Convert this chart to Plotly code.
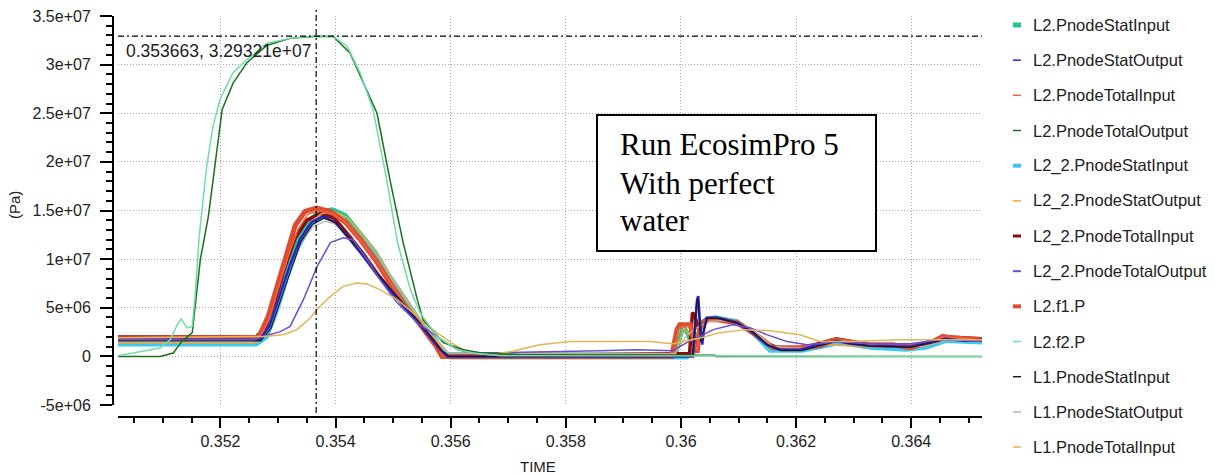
import plotly.graph_objects as go

SCALE = 1e6  # values below are written in units of 1e6 Pa

# ---------------- data (time [s], pressure [1e6 Pa]) ----------------
t_l2_stat_in = [0.35022, 0.35260, 0.35278, 0.35295, 0.35312, 0.35333, 0.35356, 0.35373, 0.35394, 0.35417,
                0.35443, 0.35469, 0.35495, 0.35521, 0.35547, 0.35573, 0.35590, 0.35990, 0.36004, 0.36011,
                0.36019, 0.36028, 0.36038, 0.36059, 0.36097, 0.36129, 0.36155, 0.36207, 0.36245, 0.36276,
                0.36328, 0.36389, 0.36424, 0.36459, 0.36523]
p_l2_stat_in = [1.3, 1.3, 2.23, 5.3, 8.7, 12.0, 14.1, 14.9, 15.1, 14.5,
                12.6, 10.7, 8.1, 5.8, 3.57, 1.71, 0.2, 0.17, 3.08, 2.44,
                1.2, 1.92, 3.57, 3.98, 3.57, 2.23, 0.79, 0.69, 1.1, 1.5,
                1.0, 0.79, 1.0, 1.71, 1.5]

t_l2_stat_out = [0.35022, 0.35268, 0.35285, 0.35302, 0.35320, 0.35338, 0.35358, 0.35378, 0.35399, 0.35425,
                 0.35448, 0.35472, 0.35495, 0.35519, 0.35542, 0.35564, 0.35582, 0.35594, 0.36021, 0.36028,
                 0.36030, 0.36033, 0.36037, 0.36040, 0.36045, 0.36063, 0.36097, 0.36125, 0.36149, 0.36172,
                 0.36207, 0.36233, 0.36271, 0.36294, 0.36328, 0.36398, 0.36433, 0.36459, 0.36493, 0.36523]
p_l2_stat_out = [1.7, 1.7, 3.1, 6.2, 9.25, 12.0, 13.8, 14.4, 13.8, 12.0,
                 10.3, 8.4, 6.75, 5.1, 3.6, 2.0, 0.7, 0.0, 0.0, 5.83,
                 6.2, 3.46, 1.2, 2.75, 3.98, 3.98, 3.46, 2.44, 1.2, 0.69,
                 0.69, 1.1, 1.61, 1.3, 1.1, 1.0, 1.41, 1.82, 1.61, 1.71]

t_l2_tot_in = [0.35022, 0.35250, 0.35268, 0.35285, 0.35302, 0.35320, 0.35335, 0.35352, 0.35372, 0.35395,
               0.35420, 0.35445, 0.35471, 0.35497, 0.35523, 0.35549, 0.35575, 0.35588, 0.35986, 0.35995,
               0.36000, 0.36015, 0.36020, 0.36028, 0.36035, 0.36050, 0.36065, 0.36100, 0.36127, 0.36160,
               0.36210, 0.36270, 0.36330, 0.36400, 0.36455, 0.36523]
p_l2_tot_in = [1.75, 1.75, 1.9, 3.9, 7.3, 10.7, 13.1, 14.6, 15.0, 14.7,
               13.6, 11.8, 9.8, 7.4, 5.1, 3.2, 1.2, 0.0, 0.0, 2.6,
               3.1, 3.1, 2.3, 0.6, 3.0, 3.7, 3.7, 3.4, 2.4, 0.9,
               0.9, 1.65, 1.15, 0.9, 2.0, 1.7]

t_l2_tot_out = [0.35022, 0.35095, 0.35118, 0.35133, 0.35151, 0.35165, 0.35179, 0.35194, 0.35203, 0.35222,
                0.35246, 0.35281, 0.35321, 0.35368, 0.35396, 0.35425, 0.35450, 0.35472, 0.35495, 0.35517,
                0.35542, 0.35552, 0.35587, 0.35622, 0.35651, 0.35720, 0.36059, 0.36060, 0.36523]
p_l2_tot_out = [0.0, 0.0, 0.35, 1.54, 2.44, 9.94, 14.4, 21.6, 25.4, 28.1,
                30.2, 32.0, 32.7, 32.93, 32.9, 31.2, 28.0, 25.0, 18.0, 11.8,
                5.83, 3.77, 1.41, 0.69, 0.38, 0.17, 0.12, 0.0, 0.0]

t_l22_stat_in = [0.35022, 0.35262, 0.35280, 0.35297, 0.35315, 0.35335, 0.35358, 0.35385, 0.35410, 0.35440,
                 0.35470, 0.35500, 0.35525, 0.35550, 0.35575, 0.35592, 0.35600, 0.35990, 0.36010, 0.36025,
                 0.36035, 0.36045, 0.36060, 0.36097, 0.36127, 0.36155, 0.36210, 0.36245, 0.36275, 0.36330,
                 0.36390, 0.36425, 0.36460, 0.36523]
p_l22_stat_in = [1.25, 1.25, 2.0, 4.6, 8.0, 11.3, 13.6, 14.6, 14.2, 12.4,
                 10.3, 7.6, 5.5, 3.3, 1.4, 0.2, -0.1, -0.1, -0.1, 0.8,
                 3.2, 3.8, 3.9, 3.6, 2.3, 0.6, 0.6, 1.0, 1.4, 0.9,
                 0.7, 0.9, 1.6, 1.45]

t_l22_stat_out = [0.35022, 0.35262, 0.35280, 0.35298, 0.35315, 0.35336, 0.35358, 0.35376, 0.35396, 0.35420,
                  0.35446, 0.35472, 0.35498, 0.35524, 0.35550, 0.35576, 0.35592, 0.35990, 0.36005, 0.36015,
                  0.36025, 0.36040, 0.36060, 0.36100, 0.36130, 0.36158, 0.36210, 0.36250, 0.36330, 0.36420,
                  0.36460, 0.36523]
p_l22_stat_out = [1.4, 1.4, 2.3, 5.2, 8.5, 11.8, 13.9, 14.7, 14.9, 14.3,
                  12.5, 10.6, 8.0, 5.7, 3.5, 1.6, 0.2, 0.2, 2.9, 2.3,
                  1.6, 3.5, 3.9, 3.5, 2.2, 0.8, 0.7, 1.2, 1.0, 1.0,
                  1.7, 1.55]

t_l22_tot_in = [0.35022, 0.35262, 0.35278, 0.35295, 0.35312, 0.35330, 0.35350, 0.35375, 0.35398, 0.35425,
                0.35450, 0.35475, 0.35500, 0.35525, 0.35548, 0.35570, 0.35586, 0.35596, 0.35995, 0.36015,
                0.36020, 0.36024, 0.36030, 0.36045, 0.36065, 0.36100, 0.36128, 0.36150, 0.36172, 0.36207,
                0.36245, 0.36270, 0.36330, 0.36400, 0.36440, 0.36465, 0.36523]
p_l22_tot_in = [2.0, 2.0, 3.0, 5.8, 9.2, 12.2, 14.0, 14.7, 14.2, 12.3,
                10.4, 8.3, 6.5, 4.8, 3.2, 1.6, 0.4, 0.0, 0.3, 0.3,
                4.5, 4.2, 3.0, 3.9, 3.9, 3.4, 2.3, 1.3, 0.8, 0.8,
                1.4, 1.8, 1.15, 1.05, 1.6, 2.0, 1.8]

t_l22_tot_out = [0.35022, 0.35260, 0.35274, 0.35304, 0.35321, 0.35344, 0.35368, 0.35391, 0.35413, 0.35430,
                 0.35455, 0.35477, 0.35507, 0.35542, 0.35576, 0.35611, 0.35634, 0.35686, 0.35859, 0.35924,
                 0.35986, 0.36010, 0.36033, 0.36056, 0.36090, 0.36120, 0.36149, 0.36184, 0.36219, 0.36276,
                 0.36328, 0.36398, 0.36450, 0.36523]
p_l22_tot_out = [1.71, 1.71, 2.05, 2.54, 3.08, 5.83, 9.25, 11.7, 12.2, 12.0,
                 9.94, 7.9, 5.52, 3.46, 2.03, 0.69, 0.38, 0.38, 0.59, 0.69,
                 0.59, 1.41, 2.06, 2.75, 3.26, 2.95, 2.24, 1.54, 1.2, 1.5,
                 1.3, 1.3, 1.71, 1.61]

t_l2_f1 = [0.35022, 0.35245, 0.35266, 0.35283, 0.35300, 0.35318, 0.35330, 0.35347, 0.35367, 0.35391,
           0.35417, 0.35443, 0.35469, 0.35495, 0.35521, 0.35547, 0.35573, 0.35585, 0.35984, 0.35993,
           0.35998, 0.36016, 0.36019, 0.36028, 0.36033, 0.36045, 0.36063, 0.36097, 0.36125, 0.36143,
           0.36160, 0.36207, 0.36242, 0.36268, 0.36288, 0.36328, 0.36368, 0.36398, 0.36438, 0.36455,
           0.36467, 0.36523]
p_l2_f1 = [1.8, 1.8, 1.92, 4.11, 7.58, 11.0, 13.5, 14.9, 15.26, 14.9,
           13.8, 12.0, 9.94, 7.5, 5.2, 3.26, 1.2, 0.0, 0.0, 2.75,
           3.26, 3.26, 2.44, 0.38, 3.05, 3.77, 3.77, 3.46, 2.44, 1.71,
           0.89, 0.89, 1.1, 1.71, 1.54, 1.2, 1.2, 0.89, 1.54, 2.05,
           1.92, 1.71]

t_l2_f2 = [0.35022, 0.35061, 0.35095, 0.35113, 0.35125, 0.35132, 0.35142, 0.35151, 0.35156, 0.35163,
           0.35176, 0.35187, 0.35199, 0.35222, 0.35246, 0.35281, 0.35321, 0.35367, 0.35396, 0.35420,
           0.35443, 0.35465, 0.35488, 0.35508, 0.35530, 0.35547, 0.35576, 0.35611, 0.35639, 0.35686,
           0.36523]
p_l2_f2 = [0.07, 0.51, 0.86, 1.72, 3.26, 3.85, 2.92, 3.08, 6.17, 12.3,
           19.5, 23.6, 26.4, 29.2, 30.5, 32.2, 32.7, 32.97, 32.9, 31.9,
           29.1, 25.4, 18.4, 11.6, 6.86, 4.46, 2.06, 0.69, 0.35, 0.07,
           0.0]

t_l1_stat_in = [0.35022, 0.35270, 0.35288, 0.35305, 0.35323, 0.35340, 0.35360, 0.35380, 0.35402, 0.35428,
                0.35452, 0.35476, 0.35500, 0.35524, 0.35546, 0.35568, 0.35585, 0.35597, 0.36020, 0.36027,
                0.36030, 0.36034, 0.36046, 0.36065, 0.36100, 0.36128, 0.36152, 0.36175, 0.36210, 0.36270,
                0.36330, 0.36400, 0.36460, 0.36523]
p_l1_stat_in = [1.6, 1.6, 2.9, 5.9, 9.0, 11.8, 13.6, 14.2, 13.7, 11.9,
                10.2, 8.3, 6.6, 5.0, 3.5, 1.9, 0.6, 0.0, 0.0, 5.5,
                5.9, 1.5, 3.9, 3.9, 3.4, 2.4, 1.1, 0.6, 0.6, 1.55,
                1.05, 0.95, 1.75, 1.65]

t_l1_stat_out = [0.35022, 0.35265, 0.35282, 0.35300, 0.35318, 0.35338, 0.35360, 0.35382, 0.35405, 0.35430,
                 0.35455, 0.35480, 0.35505, 0.35530, 0.35555, 0.35578, 0.35598, 0.35990, 0.36010, 0.36030,
                 0.36050, 0.36080, 0.36120, 0.36160, 0.36220, 0.36280, 0.36340, 0.36420, 0.36470, 0.36523]
p_l1_stat_out = [1.65, 1.65, 2.6, 5.5, 8.8, 11.6, 13.3, 13.9, 13.5, 11.8,
                 10.0, 8.0, 6.2, 4.6, 3.0, 1.5, 0.3, 0.3, 2.2, 3.0,
                 3.6, 3.7, 2.9, 1.0, 0.8, 1.6, 1.1, 1.0, 1.8, 1.7]

t_l1_tot_in = [0.35022, 0.35274, 0.35309, 0.35333, 0.35356, 0.35370, 0.35391, 0.35413, 0.35437, 0.35455,
               0.35477, 0.35507, 0.35542, 0.35576, 0.35611, 0.35634, 0.35668, 0.35703, 0.35755, 0.35807,
               0.35946, 0.35986, 0.36033, 0.36068, 0.36111, 0.36155, 0.36207, 0.36242, 0.36294, 0.36380,
               0.36523]
p_l1_tot_in = [1.92, 2.05, 2.23, 2.75, 3.95, 4.98, 6.17, 7.2, 7.55, 7.44,
               6.86, 5.83, 4.11, 2.41, 1.03, 0.35, 0.17, 0.48, 1.2, 1.54,
               1.54, 1.31, 1.89, 2.44, 2.75, 2.64, 2.23, 1.54, 1.54, 1.72,
               1.72]

SERIES = [
    # name, t, p, colour, line width, legend swatch width
    ("L2.PnodeStatInput", t_l2_stat_in, p_l2_stat_in, "#1cc59a", 4.5, 5),
    ("L2.PnodeStatOutput", t_l2_stat_out, p_l2_stat_out, "#2424c8", 2.5, 1.5),
    ("L2.PnodeTotalInput", t_l2_tot_in, p_l2_tot_in, "#f2603d", 1.5, 1.5),
    ("L2.PnodeTotalOutput", t_l2_tot_out, p_l2_tot_out, "#1a6f1f", 1.5, 1.5),
    ("L2_2.PnodeStatInput", t_l22_stat_in, p_l22_stat_in, "#3ac9f5", 4.5, 4),
    ("L2_2.PnodeStatOutput", t_l22_stat_out, p_l22_stat_out, "#ffa82e", 1.5, 1.5),
    ("L2_2.PnodeTotalInput", t_l22_tot_in, p_l22_tot_in, "#8e0b0b", 3.5, 3),
    ("L2_2.PnodeTotalOutput", t_l22_tot_out, p_l22_tot_out, "#6a4fd0", 1.5, 2),
    ("L2.f1.P", t_l2_f1, p_l2_f1, "#e04b2e", 5, 4),
    ("L2.f2.P", t_l2_f2, p_l2_f2, "#72dba6", 1.5, 1.5),
    ("L1.PnodeStatInput", t_l1_stat_in, p_l1_stat_in, "#261818", 1.2, 1.5),
    ("L1.PnodeStatOutput", t_l1_stat_out, p_l1_stat_out, "#c2ae9c", 1.2, 1.5),
    ("L1.PnodeTotalInput", t_l1_tot_in, p_l1_tot_in, "#e2b558", 1.5, 1.5),
]

DRAW_ORDER = ["L2.PnodeStatInput", "L2_2.PnodeStatInput", "L2_2.PnodeTotalInput", "L2_2.PnodeStatOutput",
              "L2.f1.P", "L2.PnodeTotalInput", "L1.PnodeStatOutput", "L2.PnodeStatOutput",
              "L1.PnodeStatInput", "L2_2.PnodeTotalOutput", "L1.PnodeTotalInput",
              "L2.PnodeTotalOutput", "L2.f2.P"]

Y_TICKS = [-5e6, 0, 5e6, 1e7, 1.5e7, 2e7, 2.5e7, 3e7, 3.5e7]
Y_TICKTEXT = ["-5e+06", "0", "5e+06", "1e+07", "1.5e+07", "2e+07", "2.5e+07", "3e+07", "3.5e+07"]
X_TICKS = [0.352, 0.354, 0.356, 0.358, 0.360, 0.362, 0.364]
X_TICKTEXT = ["0.352", "0.354", "0.356", "0.358", "0.36", "0.362", "0.364"]

CURSOR_T = 0.353663
CURSOR_P = 3.29321e7
X_RANGE = [0.35022, 0.36523]
Y_RANGE = [-5e6, 3.5e7]

# ---------------- geometry helpers (pixels -> paper) ----------------
W, H = 1215, 475
ML, MR, MT, MB = 113, 233, 16, 58
PW, PH = W - ML - MR, H - MT - MB


def px(x):
    return (x - ML) / PW


def py(y):
    return (H - MB - y) / PH


FONT = "Liberation Sans, Arial, sans-serif"

fig = go.Figure()
lookup = {s[0]: s for s in SERIES}
for name in DRAW_ORDER:
    _, t, p, col, lw, _sw = lookup[name]
    fig.add_trace(go.Scatter(x=t, y=[v * SCALE for v in p], mode="lines", name=name,
                             line=dict(color=col, width=lw), showlegend=False, hoverinfo="skip"))

# legend drawn as short swatches + labels, like the original tool
LEG_Y0, LEG_DY = 25, 35.17
for i, (name, _t, _p, col, _lw, sw) in enumerate(SERIES):
    yc = LEG_Y0 + i * LEG_DY
    fig.add_shape(type="line", xref="paper", yref="paper", x0=px(1013), x1=px(1021), y0=py(yc), y1=py(yc),
                  line=dict(color=col, width=sw))
    fig.add_annotation(xref="paper", yref="paper", x=px(1031), y=py(yc), xanchor="left", yanchor="middle",
                       text=name, showarrow=False, font=dict(family=FONT, size=16.5, color="#222"))

dashdot = "6px,3px,2px,3px"
fig.add_shape(type="line", xref="x", yref="paper", x0=CURSOR_T, x1=CURSOR_T, y0=py(413), y1=py(7),
              line=dict(color="black", width=1.2, dash=dashdot))
fig.add_shape(type="line", xref="x", yref="y", x0=X_RANGE[0], x1=X_RANGE[1], y0=CURSOR_P, y1=CURSOR_P,
              line=dict(color="black", width=1.2, dash=dashdot))
fig.add_annotation(xref="paper", yref="paper", x=px(124), y=py(51), xanchor="left", yanchor="middle",
                   text="0.353663, 3.29321e+07", showarrow=False,
                   font=dict(family=FONT, size=17.5, color="#222"))

# text box
fig.add_shape(type="rect", xref="paper", yref="paper", x0=px(597), x1=px(876), y0=py(251), y1=py(115),
              line=dict(color="black", width=2), fillcolor="white", layer="above")
for txt, yc in [("Run EcosimPro 5", 145), ("With perfect", 183), ("water", 220)]:
    fig.add_annotation(xref="paper", yref="paper", x=px(618), y=py(yc), xanchor="left", yanchor="middle",
                       text=txt, showarrow=False,
                       font=dict(family="Liberation Serif, Times New Roman, serif", size=31, color="black"))

fig.add_annotation(xref="paper", yref="paper", x=px(15), y=py(205), xanchor="center", yanchor="middle",
                   text="(Pa)", textangle=-90,
                   showarrow=False, font=dict(family=FONT, size=15, color="#222"))
fig.add_annotation(xref="paper", yref="paper", x=px(538), y=py(466), xanchor="center", yanchor="middle",
                   text="TIME", showarrow=False, font=dict(family=FONT, size=15, color="#222"))

grid = dict(showgrid=True, gridcolor="#a8a8a8", gridwidth=1, griddash="1px,2px")

fig.update_layout(
    width=W, height=H, margin=dict(l=ML, r=MR, t=MT, b=MB, pad=0, autoexpand=False),
    paper_bgcolor="white", plot_bgcolor="white",
    font=dict(family=FONT, color="#222"),
    xaxis=dict(domain=[px(118), 1], range=X_RANGE, anchor="free", position=0,
               showline=True, linecolor="black", linewidth=2, zeroline=False,
               tickmode="array", tickvals=X_TICKS, ticktext=X_TICKTEXT,
               ticks="outside", ticklen=10, tickwidth=1.5, tickcolor="black",
               tickfont=dict(size=16, color="#222"), ticklabelstandoff=0,
               minor=dict(tickmode="linear", tick0=0.3505, dtick=0.0005, ticks="outside", ticklen=5,
                          tickwidth=1.5, tickcolor="black", showgrid=False),
               **grid),
    yaxis=dict(domain=[py(405), 1], range=Y_RANGE, anchor="free", position=0,
               showline=True, linecolor="black", linewidth=2, zeroline=False,
               tickmode="array", tickvals=Y_TICKS, ticktext=Y_TICKTEXT,
               ticks="outside", ticklen=12, tickwidth=1.5, tickcolor="black",
               tickfont=dict(size=16, color="#222"), ticklabelstandoff=6,
               minor=dict(tickmode="linear", tick0=0, dtick=1e6, ticks="outside", ticklen=6,
                          tickwidth=1.5, tickcolor="black", showgrid=False),
               **grid),
    showlegend=False,
)

fig.write_html("out.html")
